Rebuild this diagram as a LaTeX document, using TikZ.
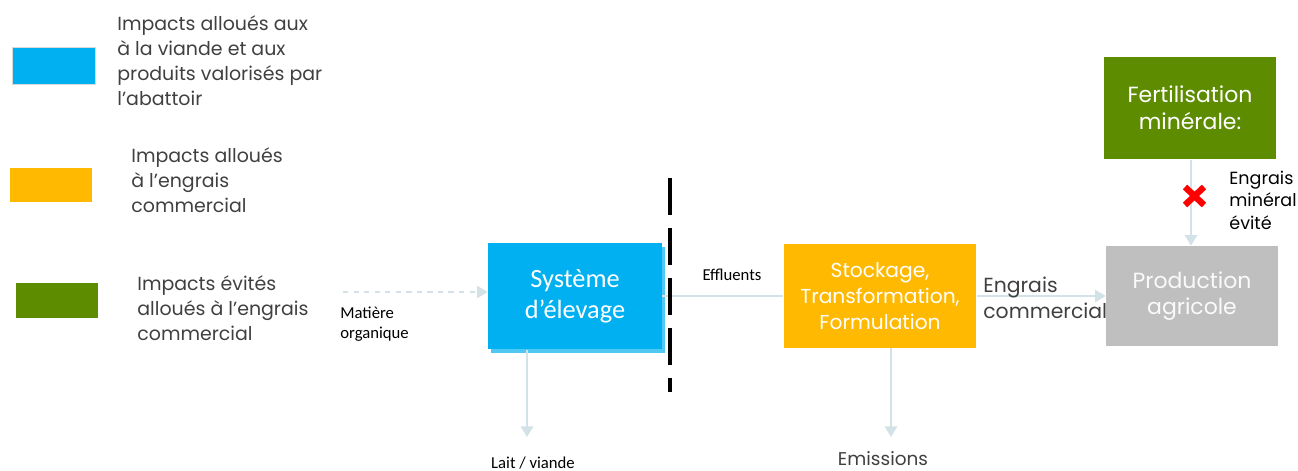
\documentclass[tikz,border=0pt]{standalone}
\usepackage{fontspec}
\setmainfont{Poppins}
\newfontfamily\calib{Carlito}
\usetikzlibrary{arrows.meta, positioning}
\definecolor{bleu}{HTML}{00B0F0}
\definecolor{ombre}{HTML}{4FC8F4}
\definecolor{jaune}{HTML}{FFB900}
\definecolor{vert}{HTML}{5E8C00}
\definecolor{gris}{HTML}{BFBFBF}
\definecolor{flux}{HTML}{D3E2E7}
\definecolor{texte}{HTML}{404040}

\begin{document}
\begin{tikzpicture}[
  x=0.02cm, y=-0.02cm,
  bloc/.style={inner sep=0pt, align=center, text=white, font=\fontsize{11.5}{15}\selectfont},
  leg/.style={inner sep=0pt, minimum width=1.66cm, minimum height=0.74cm},
  legtxt/.style={inner sep=0pt, anchor=west, align=left, text=texte, font=\fontsize{10.8}{14.2}\selectfont},
  lbl/.style={inner sep=0pt, text=black, font=\calib\fontsize{9.5}{11.5}\selectfont},
  flow/.style={draw=flux, line width=1pt, -{Triangle[width=7pt,length=6pt]}}
]
\useasboundingbox (0,0) rectangle (1298,470);

% legende
\node[leg, fill=bleu, draw=gris!60] (lbleu) at (54,66) {};
\node[legtxt] (tbleu) at (117,61) {Impacts alloués aux\\à la viande et aux\\produits valorisés par\\l’abattoir};
\node[leg, fill=jaune, minimum height=0.7cm] (ljaune) at (51,185) {};
\node[legtxt] (tjaune) at (131,180) {Impacts alloués\\à l’engrais\\commercial};
\node[leg, fill=vert, minimum height=0.7cm] (lvert) at (57,300) {};
\node[legtxt] (tvert) at (137,308) {Impacts évités\\alloués à l’engrais\\commercial};

% blocs
\fill[ombre] (491,247) rectangle (665,353);
\node[bloc, fill=bleu, minimum width=3.48cm, minimum height=2.14cm,
  font=\calib\fontsize{15}{17.5}\selectfont] (sys) at (575,296) {Système\\d’élevage};
\node[bloc, fill=jaune, minimum width=3.86cm, minimum height=2.08cm] (stock) at (880,296) {Stockage,\\Transformation,\\Formulation};
\node[bloc, fill=gris, text=white!92!gris, minimum width=3.44cm, minimum height=2cm,
  font=\fontsize{12.5}{15}\selectfont] (prod) at (1192,296) {Production\\agricole};
\node[bloc, fill=vert, minimum width=3.46cm, minimum height=2.06cm,
  font=\fontsize{12.5}{15.3}\selectfont] (ferti) at (1190,108) {Fertilisation\\minérale:};

% flux
\coordinate (mo) at (343,292);
\draw[flow, dashed] (mo) -- (sys.west |- mo);
\node[lbl, anchor=west, align=left] (tmo) at (340,324) {Matière\\organique};
\coordinate (laitfin) at (527,437);
\draw[flow] (sys.south -| laitfin) -- (laitfin);
\node[lbl] (lait) at (533,463) {Lait / viande};
\draw[draw=flux, line width=1pt] (sys.east) -- (stock.west);
\node[lbl] (eff) at (732,275) {Effluents};
\coordinate (emifin) at (891,437);
\draw[flow] (stock.south -| emifin) -- (emifin);
\node[lbl, text=texte, font=\fontsize{10.5}{12}\selectfont] (emi) at (883,459) {Emissions};
\draw[flow] (stock.east) -- (prod.west);
\node[legtxt, font=\fontsize{11.6}{14.5}\selectfont] (tcom) at (983,298) {Engrais\\commercial};
\coordinate (fhaut) at (1191,160);
\draw[flow] (fhaut) -- (fhaut |- prod.north);
\draw[red, line width=3.6pt] (1185,187) -- (1204,205) (1185,205) -- (1204,187);
\node[legtxt, text=black, font=\fontsize{10}{12.8}\selectfont] (tmin) at (1229,200) {Engrais\\minéral\\évité};

% limite du systeme
\draw[black, line width=2.6pt, dash pattern=on 0.74cm off 0.26cm] (670,178) -- (670,392);
\end{tikzpicture}
\end{document}
